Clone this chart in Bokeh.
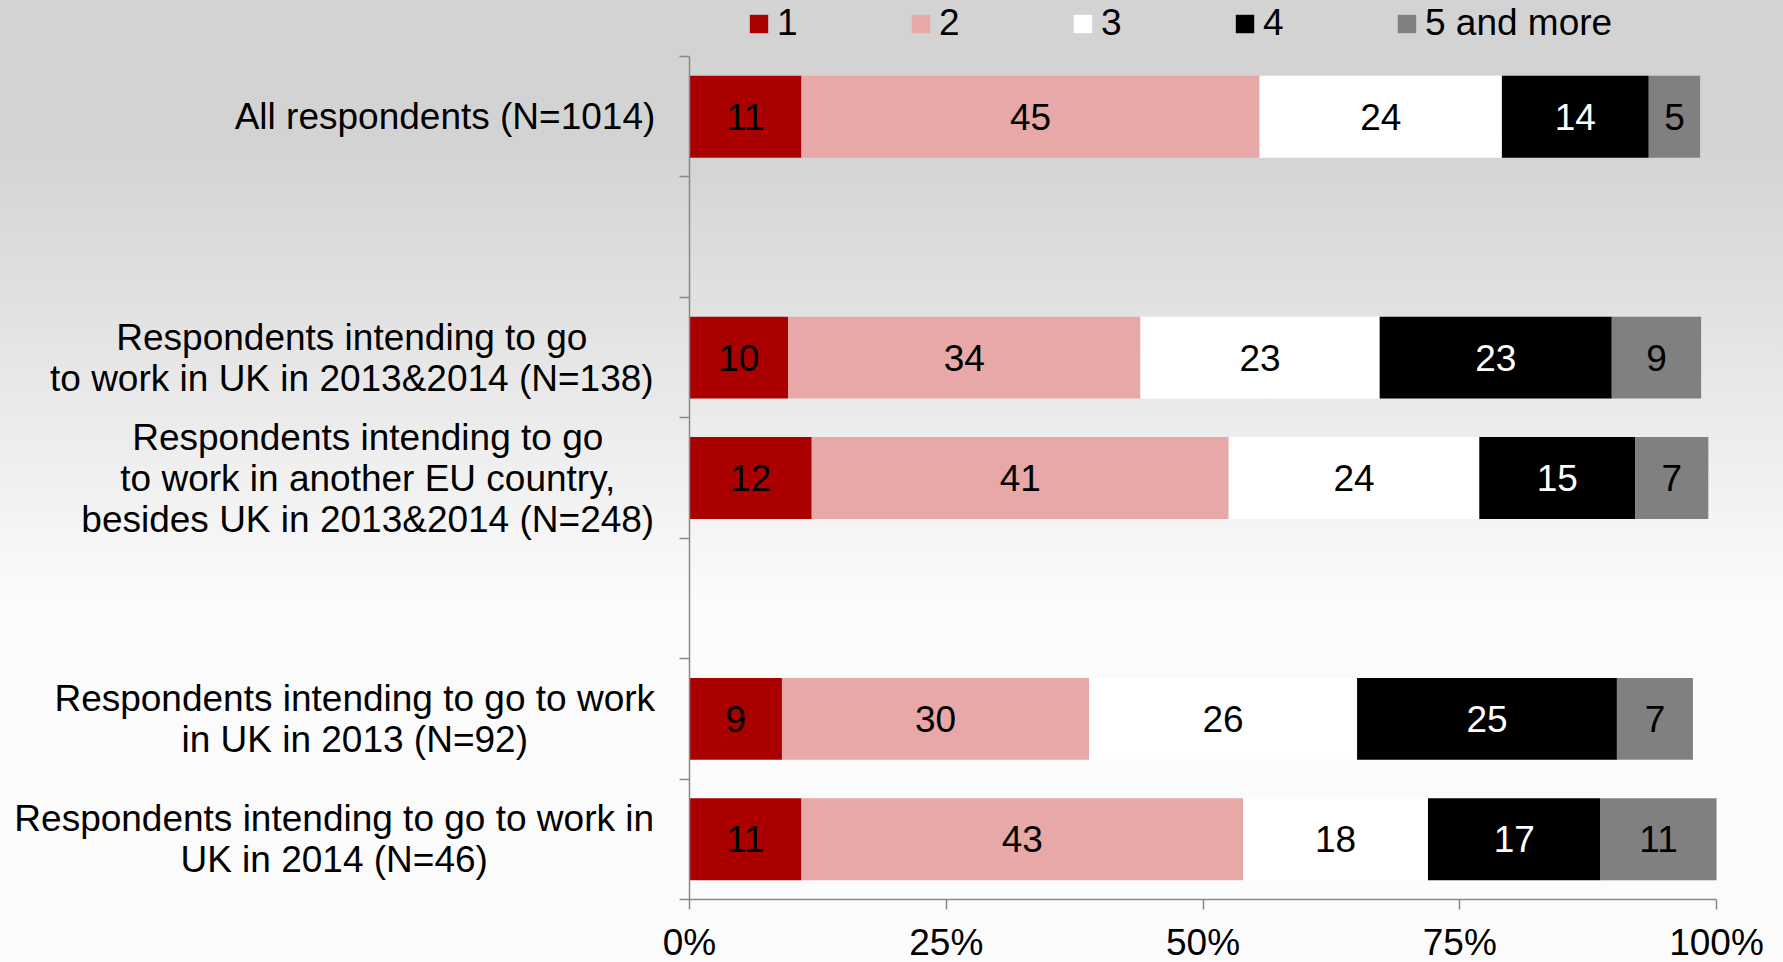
from bokeh.plotting import figure
from bokeh.models import (Range1d, FixedTicker, PrintfTickFormatter, Legend, LegendItem,
                          ColumnDataSource, GlobalInlineStyleSheet)
from bokeh.core.properties import value
from bokeh.embed import file_html
from bokeh.resources import INLINE

# ---------------- data (shares in %) ----------------
categories = [
    "All respondents (N=1014)",
    "Respondents intending to go\nto work in UK in 2013&2014 (N=138)",
    "Respondents intending to go\nto work in another EU country,\nbesides UK in 2013&2014 (N=248)",
    "Respondents intending to go to work\nin UK in 2013 (N=92)",
    "Respondents intending to go to work in\nUK in 2014 (N=46)",
]
series_names = ["1", "2", "3", "4", "5 and more"]
s1 = [10.9, 9.6, 11.9, 9.0, 10.9]
s2 = [44.6, 34.3, 40.6, 29.9, 43.0]
s3 = [23.6, 23.3, 24.4, 26.1, 18.0]
s4 = [14.3, 22.6, 15.2, 25.3, 16.8]
s5 = [5.0, 8.7, 7.1, 7.4, 11.3]
x_ticks = [0, 25, 50, 75, 100]

# ---------------- layout / style ----------------
row_slots = [0.5, 2.5, 3.5, 5.5, 6.5]      # band positions on the category axis
n_slots = 7
label_x = [-23.81, -32.88, -31.33, -32.60, -34.60]   # centre of each category text block
X_START, X_END = -67.09, 106.52
Y_TOP, Y_BOTTOM = -0.465, 7.523
colors = ["#aa0000", "#e8a8a8", "#ffffff", "#000000", "#808080"]
text_colors = ["#000000", "#000000", "#000000", "#ffffff", "#000000"]
FONT = "Liberation Sans"
FS = "37px"
AXIS_COLOR = "#898989"

p = figure(width=1783, height=962, x_range=Range1d(X_START, X_END),
           y_range=Range1d(Y_BOTTOM, Y_TOP),
           output_backend="svg", toolbar_location=None, min_border=0)
p.min_border_left = 0
p.min_border_right = 0
p.min_border_top = 0
p.min_border_bottom = 0
p.background_fill_alpha = 0
p.border_fill_alpha = 0
p.outline_line_color = None
p.xgrid.visible = False
p.ygrid.visible = False

series = [s1, s2, s3, s4, s5]
cum = [0] * len(categories)
items = []
for k, vals in enumerate(series):
    left = list(cum)
    right = [l + v for l, v in zip(left, vals)]
    src = ColumnDataSource(dict(y=row_slots, left=left, right=right,
                                mid=[(l + r) / 2 for l, r in zip(left, right)],
                                txt=[f"{v:.0f}" for v in vals]))
    r = p.hbar(y="y", left="left", right="right", height=0.68, fill_color=colors[k],
               line_color=None, source=src)
    p.text(x="mid", y="y", text="txt", source=src, text_align="center", text_baseline="middle",
           text_color=text_colors[k], text_font=value(FONT), text_font_size=value(FS))
    items.append(LegendItem(label=series_names[k], renderers=[r]))
    cum = right

# category labels
lab_src = ColumnDataSource(dict(x=label_x, y=row_slots, text=categories))
p.text(x="x", y="y", text="text", source=lab_src, text_align="center", text_baseline="middle",
       text_font=value(FONT), text_font_size=value(FS), text_line_height=1.0,
       text_color="#000000")

legend = Legend(items=items, orientation="horizontal", location=(747, 918),
                glyph_width=23, glyph_height=23, label_standoff=7, label_width=132,
                spacing=0, padding=0, margin=0, background_fill_alpha=0,
                border_line_color=None, label_text_font=FONT, label_text_font_size=FS,
                label_text_color="#000000")
p.add_layout(legend)

# y axis: band boundaries only
p.yaxis.fixed_location = 0
p.yaxis.bounds = (0, n_slots)
p.yaxis.ticker = FixedTicker(ticks=list(range(n_slots + 1)))
p.yaxis.major_label_overrides = {i: "" for i in range(n_slots + 1)}
p.yaxis.major_tick_out = 10
p.yaxis.major_tick_in = 0
p.yaxis.minor_tick_line_color = None
p.yaxis.axis_line_color = AXIS_COLOR
p.yaxis.major_tick_line_color = AXIS_COLOR
p.yaxis.axis_line_width = 1.5
p.yaxis.major_tick_line_width = 1.5

# x axis
p.xaxis.fixed_location = n_slots
p.xaxis.bounds = (0, 100)
p.xaxis.ticker = FixedTicker(ticks=x_ticks)
p.xaxis.formatter = PrintfTickFormatter(format="%d%%")
p.xaxis.major_label_text_font = FONT
p.xaxis.major_label_text_font_size = FS
p.xaxis.major_label_text_color = "#000000"
p.xaxis.major_tick_out = 10
p.xaxis.major_tick_in = 0
p.xaxis.major_label_standoff = 12
p.xaxis.minor_tick_line_color = None
p.xaxis.axis_line_color = AXIS_COLOR
p.xaxis.major_tick_line_color = AXIS_COLOR
p.xaxis.axis_line_width = 1.5
p.xaxis.major_tick_line_width = 1.5

p.stylesheets = [GlobalInlineStyleSheet(css=(
    "html,body{margin:0;padding:0;overflow:hidden;}"
    "html{background:linear-gradient(to bottom,#d3d3d3 0px,#d3d3d3 140px,"
    "#fcfbfc 600px,#fcfbfc 100%);min-height:100%;} body{background:transparent;}"))]

open("out.html", "w").write(file_html(p, INLINE))
